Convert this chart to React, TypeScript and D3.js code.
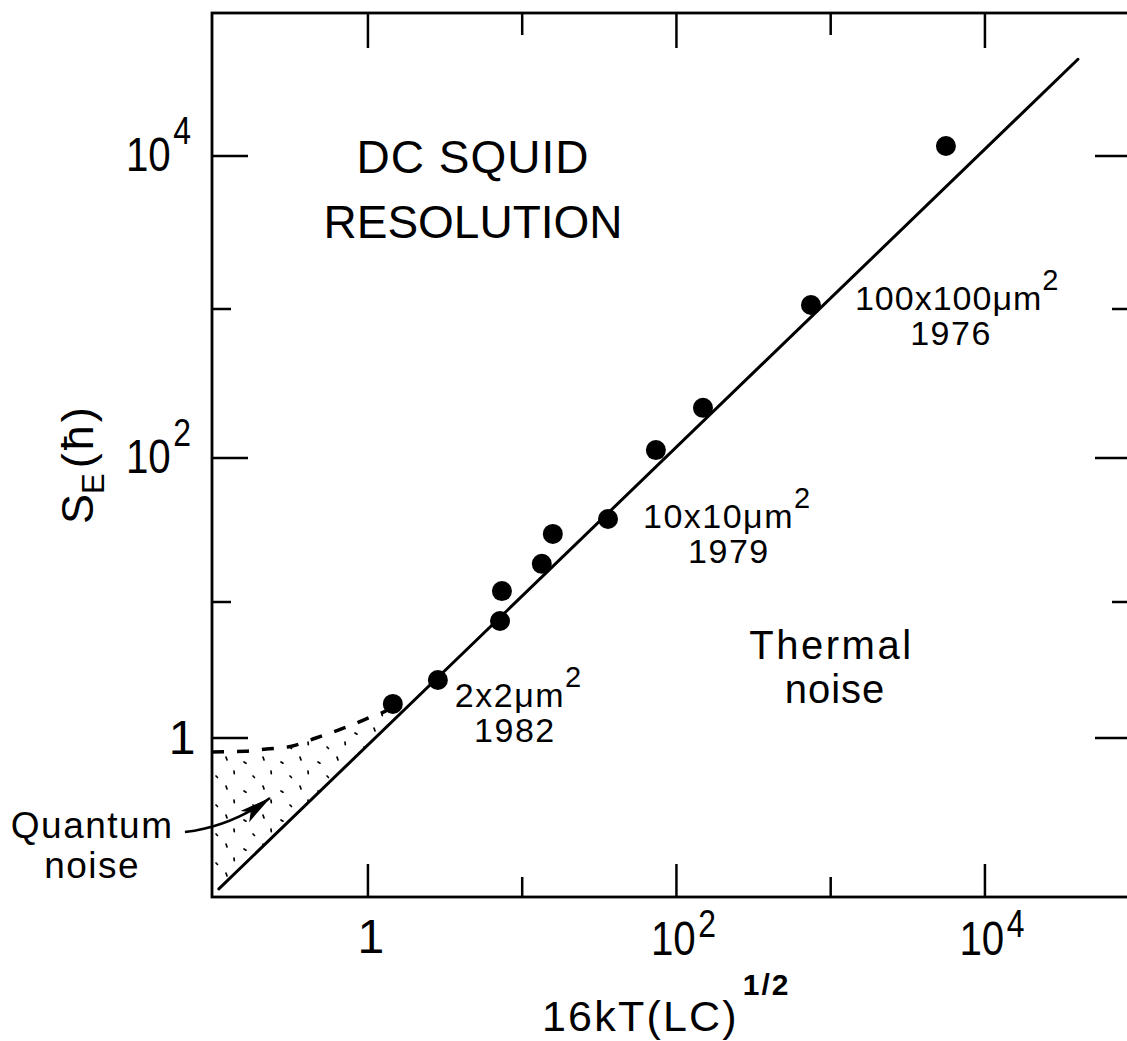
import React from 'react';
import * as d3 from 'd3';

// ---------- data ----------
// Decade ticks on both axes
const X_TICK_VALUES = [1, 10, 100, 1000, 10000];
const Y_TICK_VALUES = [1, 10, 100, 1000, 10000];
const LABELED_TICKS = [1, 100, 10000];
const TICK_EXPONENTS = ['', '2', '4'];

// Axis extents (data units)
const X_DOMAIN = [0.0975, 88500];
// y axis of the original is hand-drawn with uneven decades: piecewise stops
const Y_STOPS = [0.068, 1, 10, 100, 1000, 10000, 86100];

// Measured SQUIDs: 16kT(LC)^1/2 vs S_E (in units of hbar)
const POINT_X = [1.45, 2.84, 7.18, 7.39, 13.4, 15.8, 36.0, 73.6, 148.6, 745, 5585];
const POINT_Y = [1.78, 2.67, 7.25, 11.9, 18.4, 29.7, 37.7, 113, 217, 1062, 11620];

// Thermal-noise limit (straight line)
const THERMAL_X = [0.108, 40100];
const THERMAL_Y = [0.078, 42900];

// Quantum-noise limit (dashed)
const QUANTUM_X = [0.0975, 0.16, 0.22, 0.32, 0.46, 0.68, 1.0, 1.35, 1.45];
const QUANTUM_Y = [0.79, 0.80, 0.83, 0.87, 1.0, 1.17, 1.4, 1.62, 1.72];

// ---------- layout ----------
const W = 1127;
const H = 1041;
const FRAME = { left: 212, right: 1131, top: 13, bottom: 897 };
const Y_STOP_PX = [897, 738, 602, 458, 309, 156, 13];
const FONT = "'Liberation Sans', Arial, sans-serif";

export default function App() {
  const x = d3.scaleLog().domain(X_DOMAIN).range([FRAME.left, FRAME.right]);
  const y = d3.scaleLog().domain(Y_STOPS).range(Y_STOP_PX);

  const pts = POINT_X.map((v, i) => ({ x: v, y: POINT_Y[i] }));
  const thermal: [number, number][] = THERMAL_X.map((v, i) => [v, THERMAL_Y[i]]);
  const quantum: [number, number][] = QUANTUM_X.map((v, i) => [v, QUANTUM_Y[i]]);

  const straight = d3
    .line<[number, number]>()
    .x((d) => x(d[0]))
    .y((d) => y(d[1]));
  const smooth = d3
    .line<[number, number]>()
    .x((d) => x(d[0]))
    .y((d) => y(d[1]))
    .curve(d3.curveMonotoneX);

  // shaded region between the quantum and thermal limits
  const p0 = [x(THERMAL_X[0]), y(THERMAL_Y[0])];
  const p1 = [x(THERMAL_X[1]), y(THERMAL_Y[1])];
  const onLine = (px: number) => p0[1] + ((p1[1] - p0[1]) * (px - p0[0])) / (p1[0] - p0[0]);
  const lqx = x(QUANTUM_X[QUANTUM_X.length - 1]);
  const shade =
    smooth(quantum) +
    `L${lqx},${onLine(lqx)}L${p0[0]},${p0[1]}L${FRAME.left},${p0[1]}Z`;

  // arrow for "Quantum noise"
  const arrowPath = `M${x(0.0651)},${y(0.2037)}Q${x(0.1313)},${y(0.2254)} ${x(0.2316)},${y(0.362)}`;

  const majorLen = 36;
  const minorLen = 19;

  return (
    <svg
      width={W}
      height={H}
      style={{ position: 'absolute', left: 0, top: 0, background: '#fff' }}
      fontFamily={FONT}
    >
      <defs>
        <clipPath id="plotClip">
          <rect x={FRAME.left} y={FRAME.top} width={FRAME.right - FRAME.left} height={FRAME.bottom - FRAME.top} />
        </clipPath>
        <pattern id="dots" width="37" height="29" patternUnits="userSpaceOnUse">
          <path
            d="M4 3 l1 3 M22 8 l2 1.2 M12 17 l0.3 2.6 M31 22 l1.5 1.5"
            stroke="#000"
            strokeWidth="1.7"
            strokeLinecap="round"
          />
        </pattern>
        <marker
          id="arrowHead"
          viewBox="0 0 32 16"
          refX="31"
          refY="8"
          markerWidth="32"
          markerHeight="16"
          markerUnits="userSpaceOnUse"
          orient="auto"
        >
          <path d="M0,1 L32,8 L0,15 L7,8 Z" fill="#000" />
        </marker>
      </defs>

      <rect x={0} y={0} width={W} height={H} fill="#fff" />

      {/* frame */}
      <rect
        x={FRAME.left}
        y={FRAME.top}
        width={FRAME.right - FRAME.left}
        height={FRAME.bottom - FRAME.top}
        fill="none"
        stroke="#000"
        strokeWidth={2.8}
      />

      {/* ticks */}
      {X_TICK_VALUES.map((v) => {
        const len = LABELED_TICKS.includes(v) ? majorLen - 3 : minorLen + 1;
        const px = x(v);
        return (
          <g key={'xt' + v} stroke="#000" strokeWidth={2.5}>
            <line x1={px} x2={px} y1={FRAME.bottom} y2={FRAME.bottom - len} />
            <line x1={px} x2={px} y1={FRAME.top} y2={FRAME.top + len + 2} />
          </g>
        );
      })}
      {Y_TICK_VALUES.map((v) => {
        const len = LABELED_TICKS.includes(v) ? majorLen : minorLen;
        const py = y(v);
        return (
          <g key={'yt' + v} stroke="#000" strokeWidth={2.5}>
            <line x1={FRAME.left} x2={FRAME.left + len} y1={py} y2={py} />
            <line x1={FRAME.right} x2={FRAME.right - len} y1={py} y2={py} />
          </g>
        );
      })}

      {/* tick labels */}
      {LABELED_TICKS.map((v, i) => {
        const e = TICK_EXPONENTS[i];
        const py = y(v);
        const px = x(v);
        if (!e) {
          return (
            <g key={'lab' + v} fontSize={48}>
              <text x={182} y={py + 16} textAnchor="middle">1</text>
              <text x={px + 3} y={953} textAnchor="middle">1</text>
            </g>
          );
        }
        return (
          <g key={'lab' + v}>
            <g transform={`translate(191, ${py + 15}) scale(0.84, 1)`}>
              <text x={0} y={0} textAnchor="end" fontSize={48}>
                10<tspan fontSize={38} dx={3} dy={-27}>{e}</tspan>
              </text>
            </g>
            <g transform={`translate(${px + 7}, 955) scale(0.84, 1)`}>
              <text x={0} y={0} textAnchor="middle" fontSize={48}>
                10<tspan fontSize={38} dx={3} dy={-18}>{e}</tspan>
              </text>
            </g>
          </g>
        );
      })}

      {/* axis titles */}
      <text x={542} y={1031} fontSize={43} letterSpacing={2.2}>
        16kT(LC)<tspan fontSize={30} fontWeight="bold" dx={4} dy={-36} letterSpacing={2}>1/2</tspan>
      </text>
      <text transform="translate(93, 524) rotate(-90)" fontSize={45}>
        S
        <tspan fontSize={31} dy={11}>E</tspan>
        <tspan dy={-11} dx={5} letterSpacing={3}>(ħ)</tspan>
      </text>

      <g clipPath="url(#plotClip)">
        {/* shaded quantum region */}
        <path d={shade} fill="url(#dots)" stroke="none" />
        {/* thermal limit */}
        <path d={straight(thermal) || ''} fill="none" stroke="#000" strokeWidth={3} strokeLinecap="round" />
        {/* quantum limit */}
        <path
          d={smooth(quantum) || ''}
          fill="none"
          stroke="#000"
          strokeWidth={3.5}
          strokeDasharray="12 13"
        />
        {/* data points */}
        {pts.map((d, i) => (
          <circle key={i} cx={x(d.x)} cy={y(d.y)} r={10} fill="#000" />
        ))}
      </g>

      {/* annotations */}
      <g fill="#000">
        <text fontSize={46} textAnchor="middle">
          <tspan x={x(4.8)} y={y(7745)} letterSpacing={1}>DC SQUID</tspan>
          <tspan x={x(4.8)} y={y(2911)}>RESOLUTION</tspan>
        </text>

        <text fontSize={34} letterSpacing={1.5}>
          <tspan x={x(3.66)} y={y(1.69)}>2x2μm</tspan>
          <tspan fontSize={29} dy={-20}>2</tspan>
          <tspan x={x(8.97)} y={y(0.935)} textAnchor="middle">1982</tspan>
        </text>

        <text fontSize={34} letterSpacing={1.5}>
          <tspan x={x(60.7)} y={y(32.6)}>10x10μm</tspan>
          <tspan fontSize={29} dy={-20}>2</tspan>
          <tspan x={x(218.8)} y={y(18.7)} textAnchor="middle">1979</tspan>
        </text>

        <text fontSize={34} letterSpacing={1}>
          <tspan x={x(1436)} y={y(984)}>100x100μm</tspan>
          <tspan fontSize={29} dy={-20}>2</tspan>
          <tspan x={x(6024)} y={y(573)} textAnchor="middle" letterSpacing={1.5}>1976</tspan>
        </text>

        <text fontSize={40} textAnchor="middle">
          <tspan x={x(1011)} y={y(3.82)} letterSpacing={2.5}>Thermal</tspan>
          <tspan x={x(1066)} y={y(1.8)} letterSpacing={1}>noise</tspan>
        </text>

        <text fontSize={37} letterSpacing={1.5} textAnchor="middle">
          <tspan x={x(0.0163)} y={y(0.184)}>Quantum</tspan>
          <tspan x={x(0.0163)} y={y(0.0935)}>noise</tspan>
        </text>
      </g>
      <path d={arrowPath} fill="none" stroke="#000" strokeWidth={2.5} markerEnd="url(#arrowHead)" />
    </svg>
  );
}
